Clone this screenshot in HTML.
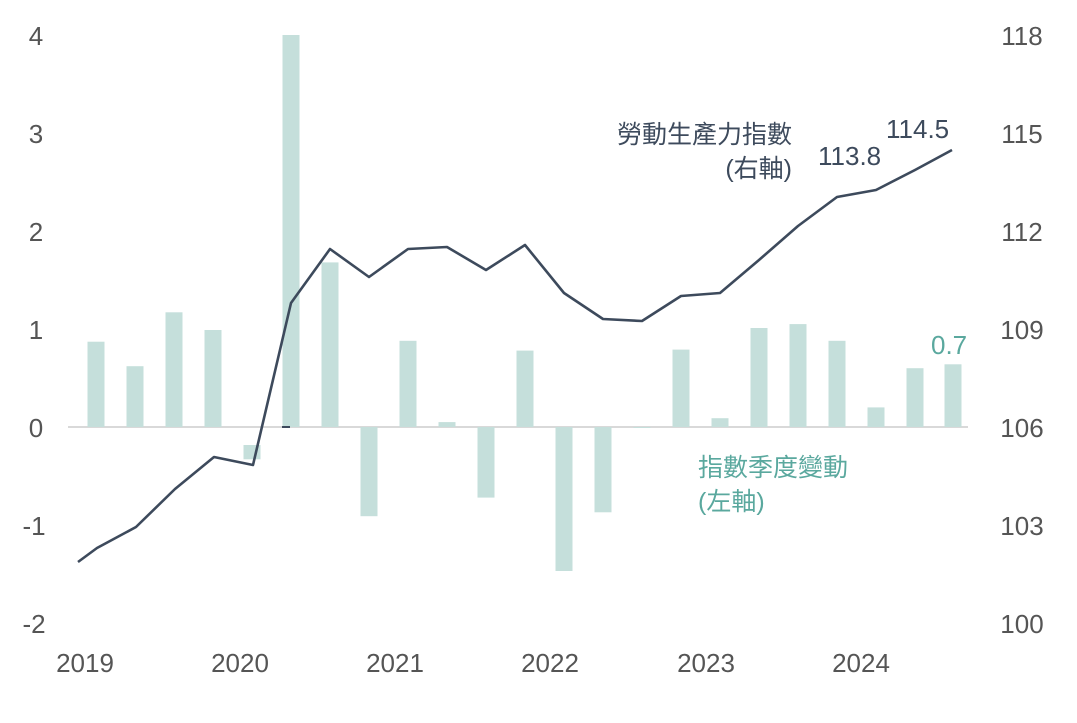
<!DOCTYPE html>
<html><head><meta charset="utf-8"><style>
html,body{margin:0;padding:0;background:#fff;}
svg text{font-family:"Liberation Sans","Noto Sans CJK TC",sans-serif;}
</style></head><body>
<svg width="1077" height="718" viewBox="0 0 1077 718" xmlns="http://www.w3.org/2000/svg">
<line x1="68" y1="427" x2="968" y2="427" stroke="#d9d9d9" stroke-width="2"/>
<g fill="#c5dfdb">
<rect x="87.5" y="341.7" width="17" height="85.3"/>
<rect x="126.5" y="366.2" width="17" height="60.8"/>
<rect x="165.5" y="312.3" width="17" height="114.7"/>
<rect x="204.5" y="330" width="17" height="97"/>
<rect x="243.5" y="445" width="17" height="14.3"/>
<rect x="282.5" y="35" width="17" height="392"/>
<rect x="321.5" y="262.4" width="17" height="164.6"/>
<rect x="360.5" y="427" width="17" height="89.2"/>
<rect x="399.5" y="340.8" width="17" height="86.2"/>
<rect x="438.5" y="422.1" width="17" height="4.9"/>
<rect x="477.5" y="427" width="17" height="70.6"/>
<rect x="516.5" y="350.6" width="17" height="76.4"/>
<rect x="555.5" y="427" width="17" height="144"/>
<rect x="594.5" y="427" width="17" height="85.3"/>
<rect x="633.5" y="427" width="17" height="1"/>
<rect x="672.5" y="349.6" width="17" height="77.4"/>
<rect x="711.5" y="418.2" width="17" height="8.8"/>
<rect x="750.5" y="328" width="17" height="99"/>
<rect x="789.5" y="324.1" width="17" height="102.9"/>
<rect x="828.5" y="340.8" width="17" height="86.2"/>
<rect x="867.5" y="407.4" width="17" height="19.6"/>
<rect x="906.5" y="368.2" width="17" height="58.8"/>
<rect x="944.5" y="364.3" width="17" height="62.7"/>
</g>
<polyline fill="none" stroke="#3d4a5c" stroke-width="2.6" stroke-linejoin="round" points="78,562 97,548 136,527 175,489 214,457 253,465 291,303 330,249 369,277 408,249 447,247 486,270 525,245 564,293 603,319 642,321 681,296 720,293 759,260 798,226 837,197 876,190 915,170 952,150"/>
<line x1="282" y1="427" x2="290" y2="427" stroke="#3d4a5c" stroke-width="2"/>
<g fill="#555" font-size="26" text-anchor="middle">
<text x="36" y="45">4</text><text x="36" y="143">3</text><text x="36" y="241">2</text><text x="36" y="339">1</text><text x="36" y="437">0</text><text x="34" y="535">-1</text><text x="34" y="633">-2</text>
<text x="1022" y="45">118</text><text x="1022" y="143">115</text><text x="1022" y="241">112</text><text x="1022" y="339">109</text><text x="1022" y="437">106</text><text x="1022" y="535">103</text><text x="1022" y="633">100</text>
<text x="85" y="672">2019</text><text x="240" y="672">2020</text><text x="395" y="672">2021</text><text x="550" y="672">2022</text><text x="706" y="672">2023</text><text x="861" y="672">2024</text>
</g>
<g fill="#3d4a5c" font-size="25">
<text x="792" y="143" text-anchor="end">勞動生產力指數</text>
<text x="792" y="177" text-anchor="end">(右軸)</text>
<text x="818" y="165" font-size="26">113.8</text>
<text x="886" y="138" font-size="26">114.5</text>
</g>
<g fill="#5aa89e" font-size="25">
<text x="698" y="476">指數季度變動</text>
<text x="698" y="510">(左軸)</text>
<text x="931" y="354" font-size="26">0.7</text>
</g>
</svg>
</body></html>
